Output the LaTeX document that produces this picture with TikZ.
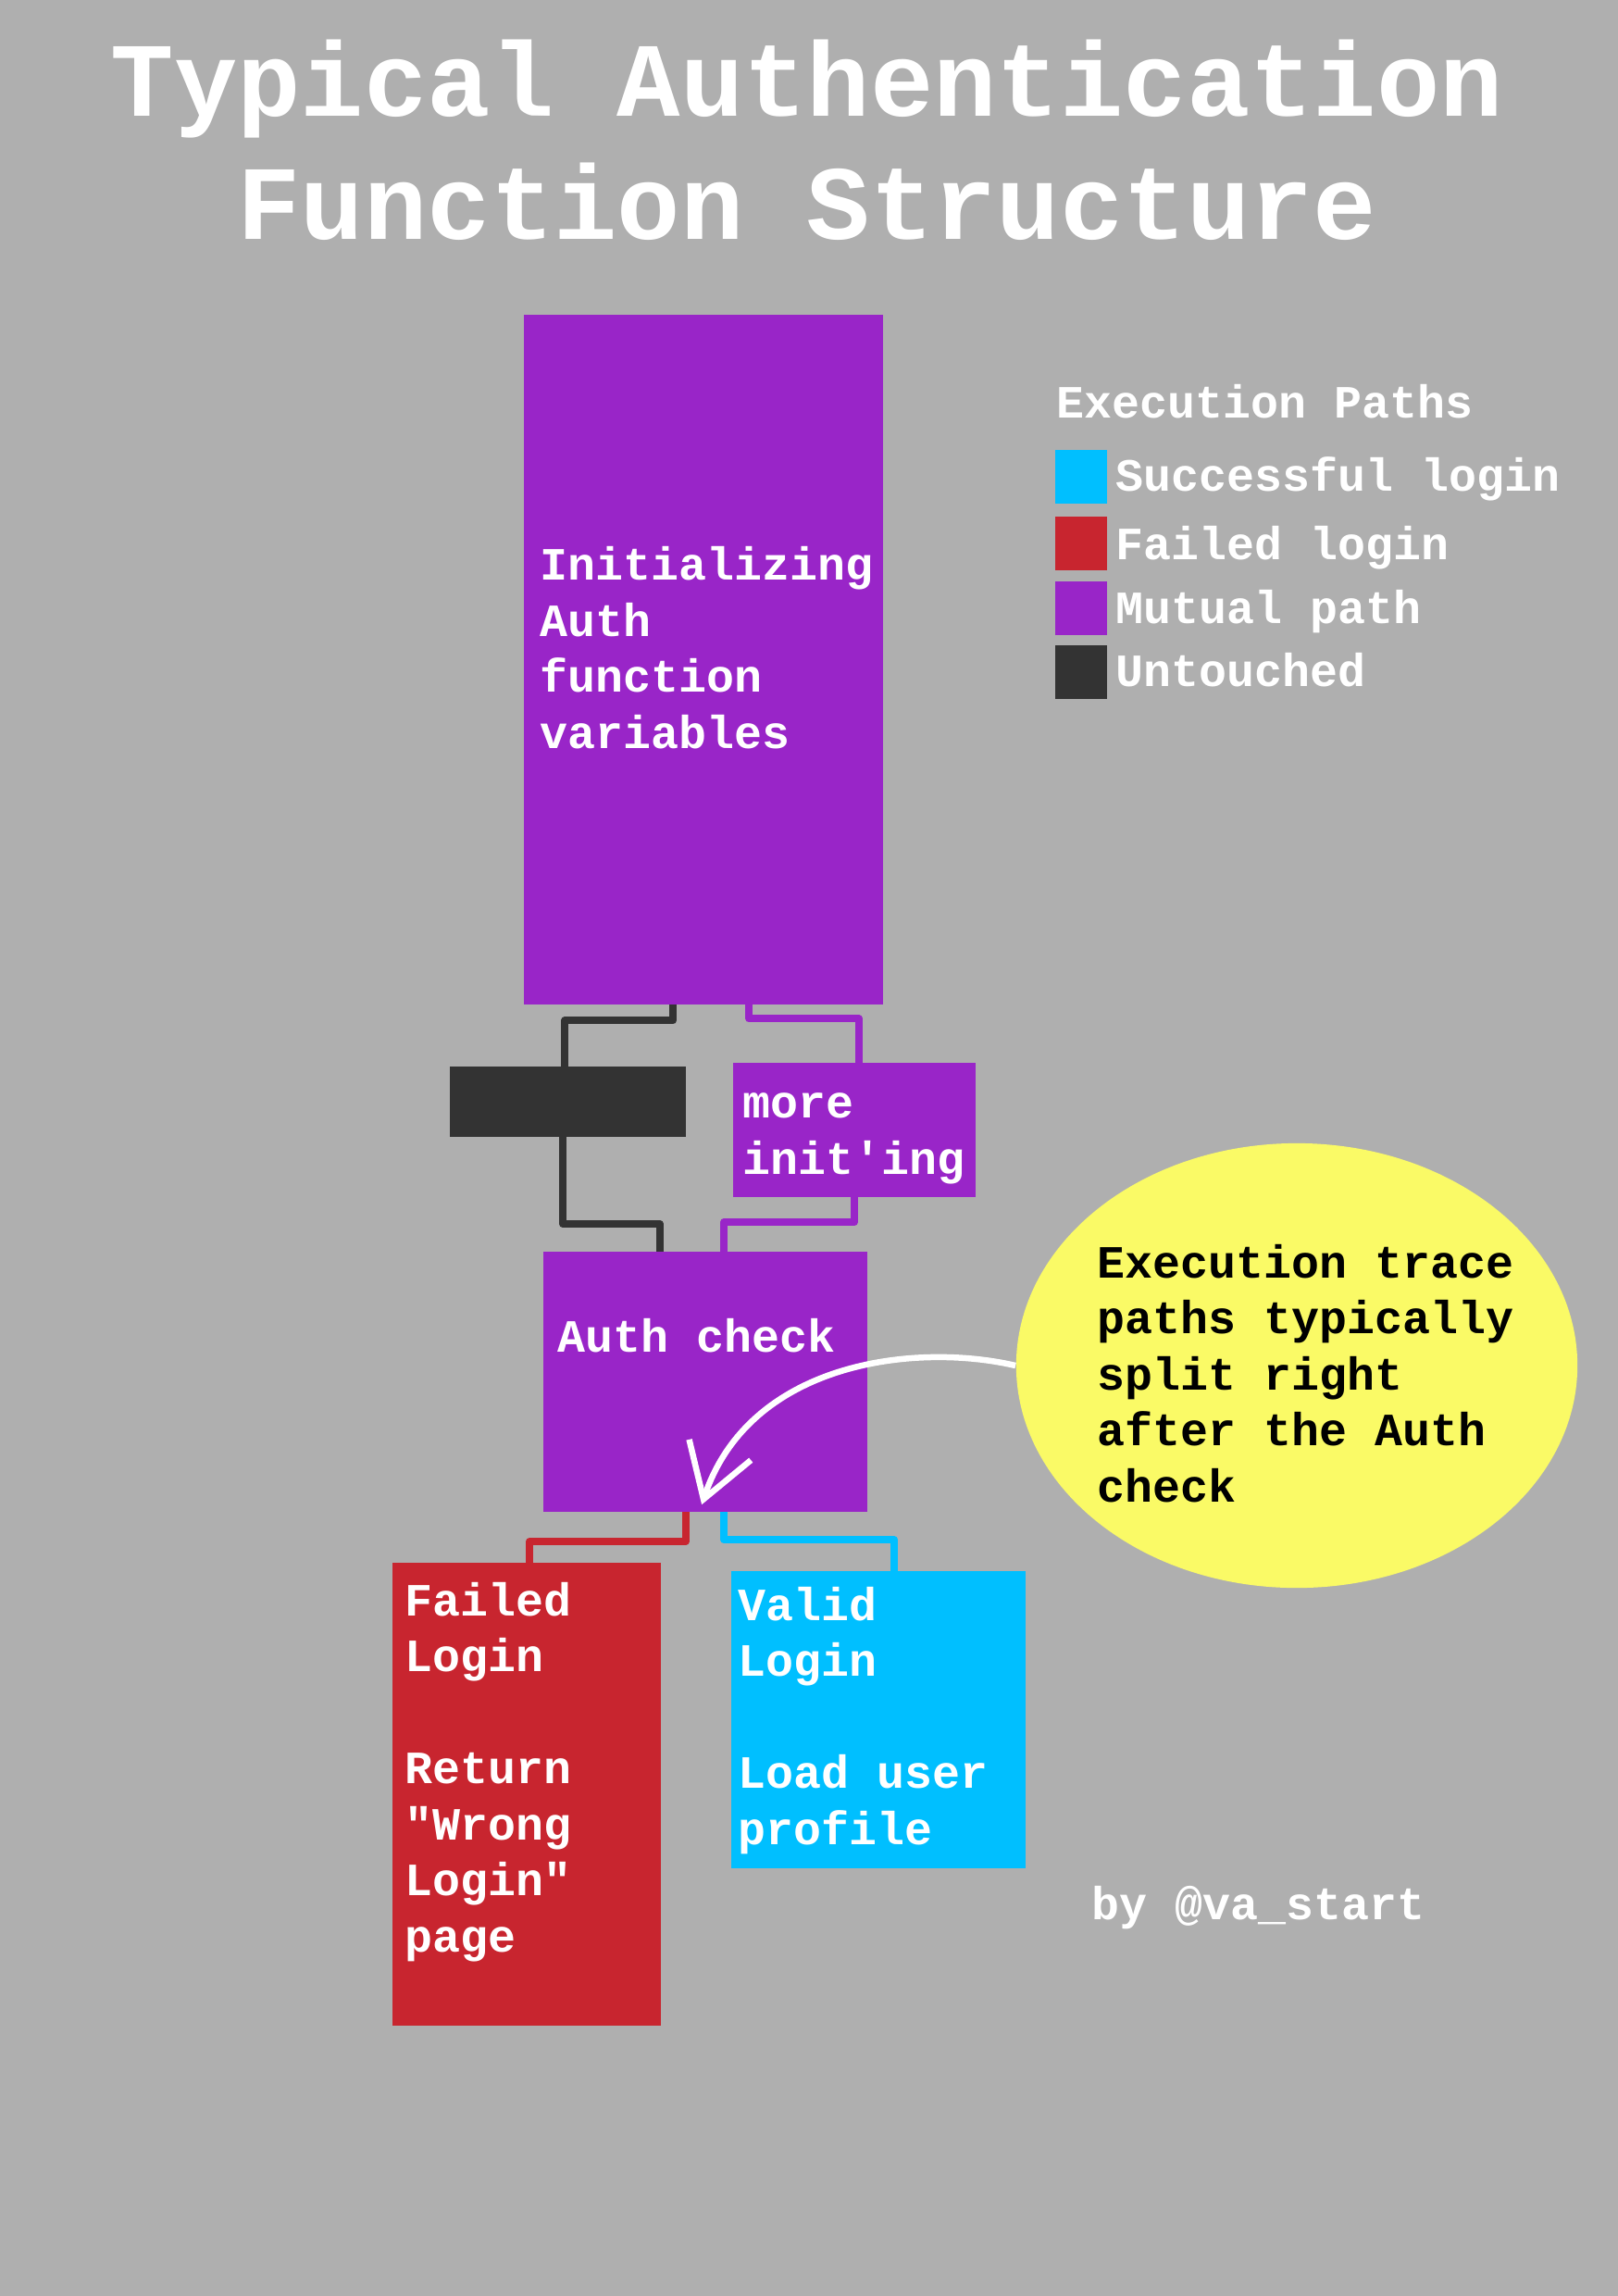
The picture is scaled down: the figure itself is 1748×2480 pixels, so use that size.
\documentclass[tikz,border=0pt]{standalone}
\usepackage{fontspec}
\newfontfamily\courfont{Liberation Mono}
\usetikzlibrary{shapes.geometric,arrows.meta}

\definecolor{bgc}{HTML}{AFAFAF}
\definecolor{purp}{HTML}{9925C8}
\definecolor{drk}{HTML}{333333}
\definecolor{redc}{HTML}{C8252F}
\definecolor{cyanc}{HTML}{00BFFF}
\definecolor{yel}{HTML}{FAFA66}

\tikzset{
  blk/.style={anchor=north west, inner sep=0pt, outer sep=0pt},
  txt/.style={anchor=base west, inner sep=0pt, align=left, text=white,
    font=\courfont\bfseries\fontsize{14.2}{17.2}\selectfont},
  wire/.style={line width=0.08cm, line join=round},
}

\begin{document}
\begin{tikzpicture}[x=0.01cm, y=-0.01cm]
	\useasboundingbox (0,0) rectangle (1748,2480);
	\fill [bgc] (0,0) rectangle (1748,2480);
	% multi-line texts sit on the baseline of their last line
	\node [anchor=base, inner sep=0pt, align=center, text=white,
	  font=\courfont\bfseries\fontsize{32.4}{37.8}\selectfont] (title) at (872,258)
	  {Typical Authentication\\Function Structure};

	% boxes
	\node [blk, fill=purp, minimum width=3.88cm, minimum height=7.45cm] (init) at (566,340) {};
	\node [txt] (inittxt) at (583,808) {Initializing\\Auth\\function\\variables};
	\node [blk, fill=drk, minimum width=2.55cm, minimum height=0.76cm] (skip) at (486,1152) {};
	\node [blk, fill=purp, minimum width=2.62cm, minimum height=1.45cm] (more) at (792,1148) {};
	\node [txt] (moretxt) at (802,1268) {more\\init\textquotesingle ing};
	\node [blk, fill=purp, minimum width=3.50cm, minimum height=2.81cm] (auth) at (587,1352) {};
	\node [txt] (authtxt) at (602,1460) {Auth check};
	\node [blk, fill=redc, minimum width=2.90cm, minimum height=5.00cm] (fail) at (424,1688) {};
	\node [txt] (failtxt) at (437,2108)
	  {Failed\\Login\\[17.2pt]Return\\\textquotedbl Wrong\\Login\textquotedbl\\page};
	\node [blk, fill=cyanc, minimum width=3.18cm, minimum height=3.21cm] (valid) at (790,1697) {};
	\node [txt] (validtxt) at (797,1992) {Valid\\Login\\[17.2pt]Load user\\profile};

	% connectors
	\draw [wire, drk] ([xshift=-0.33cm]init.south) -- ++(0,17) -| ([xshift=-0.035cm]skip.north);
	\draw [wire, purp] ([xshift=0.49cm]init.south) -- ++(0,15) -| ([xshift=0.05cm]more.north);
	\draw [wire, drk] ([xshift=-0.055cm]skip.south) -- ++(0,94) -| ([xshift=-0.49cm]auth.north);
	\draw [wire, purp] (more.south) -- ++(0,27) -| ([xshift=0.2cm]auth.north);
	\draw [wire, redc] ([xshift=-0.215cm]auth.south) -- ++(0,32) -| ([xshift=0.03cm]fail.north);
	\draw [wire, cyanc] ([xshift=0.2cm]auth.south) -- ++(0,30) -| ([xshift=0.17cm]valid.north);

	% legend
	\node [txt] (legtitle) at (1141,451) {Execution Paths};
	\foreach \col/\ytop/\ybase/\name in {cyanc/486/530/Successful login, redc/558/604/Failed login,
	    purp/628/673/Mutual path, drk/697/741/Untouched} {
	  \node [blk, fill=\col, minimum width=0.56cm, minimum height=0.58cm] (key-\col) at (1140,\ytop) {};
	  \node [txt] (keytxt-\col) at (1205,\ybase) {\name};
	}

	% note
	\node [ellipse, fill=yel, inner sep=0pt, minimum width=6.06cm, minimum height=4.80cm] (ell) at (1401,1475) {};
	\node [txt, text=black] (notetxt) at (1185,1622)
	  {Execution trace\\paths typically\\split right\\after the Auth\\check};
	\coordinate (tip) at ([shift={(-4,-8)}]auth.south);
	\draw [white, line width=0.065cm, -{Straight Barb[length=16pt,width=20pt]}]
	  (ell.west) .. controls (990,1450) and (810,1470) .. (tip);

	\node [txt] (credit) at (1179,2073) {by @va\_start};
\end{tikzpicture}
\end{document}
